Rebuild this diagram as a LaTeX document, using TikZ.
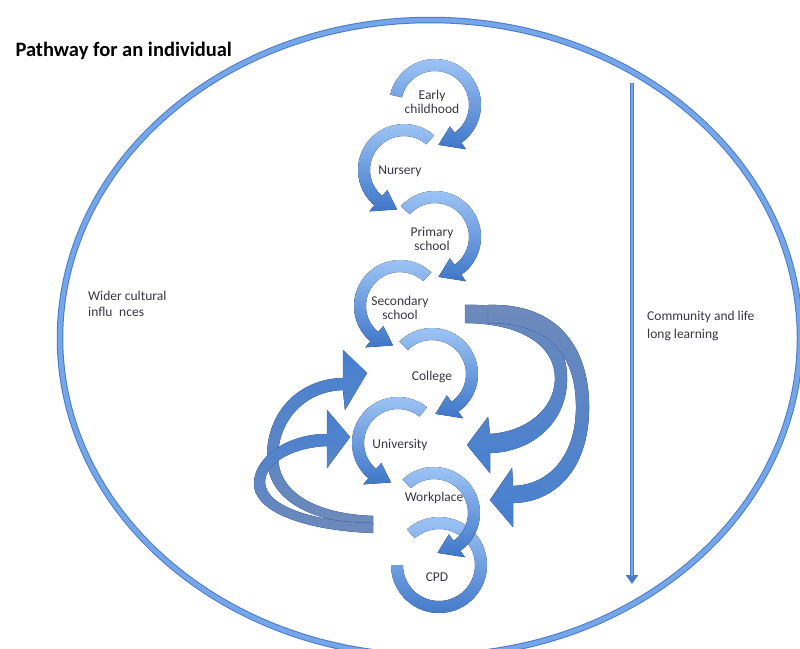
\documentclass[tikz,border=0pt]{standalone}
\usepackage{fontspec}
\setmainfont{Carlito}
\usepackage{tikz}
\usetikzlibrary{arrows.meta}

\definecolor{ringlight}{RGB}{162,200,248}
\definecolor{ringdark}{RGB}{62,118,200}
\definecolor{ovalblue}{RGB}{118,166,234}
\definecolor{ovaledge}{RGB}{72,122,200}
\definecolor{bendblue}{RGB}{70,128,210}
\definecolor{bendgray}{RGB}{110,138,186}
\definecolor{labelgray}{RGB}{55,55,65}

\begin{document}
\begin{tikzpicture}[x=1pt,y=1pt,yscale=-1,xscale=1,
  stage/.style={top color=ringlight, bottom color=ringdark, draw=none},
  bendright/.style={top color=bendgray, bottom color=bendblue, draw=ovaledge, line width=0.25},
  bendleft/.style={top color=bendblue, bottom color=bendgray, draw=ovaledge, line width=0.25},
  label/.style={font=\fontsize{13.5}{14}\selectfont, text=labelgray, align=center, inner sep=0pt},
  side/.style={font=\fontsize{13.5}{16}\selectfont, text=labelgray, align=left, inner sep=0pt, anchor=west}]
\useasboundingbox (0,0) rectangle (800,648);
\clip (0,0) rectangle (800,648);

% outer oval
\draw [ovaledge, line width=6.5] (430,338) ellipse [x radius=370, y radius=318];
\draw [ovalblue, line width=4.5] (430,338) ellipse [x radius=370, y radius=318];

% life long line
\coordinate (lltop) at (632,83);
\coordinate (llend) at (632,584);
\draw [ovaledge, line width=4.6, -{Triangle[length=9pt,width=12pt]}] (lltop) -- (llend);
\draw [ovalblue, line width=2.6, shorten >=8pt] (lltop) -- (llend);

% curved arrows on the right
\fill [bendright] (465,305) .. controls (530,303) and (568,335) .. (567,380) .. controls (566,425) and (530,452) .. (490,453)
  -- (490,473) -- (467,445) -- (488,417) -- (490,434)
  .. controls (525,432) and (554,410) .. (555,380) .. controls (556,345) and (520,323) .. (465,323) -- cycle;
\fill [bendright] (488,305) .. controls (560,303) and (590,350) .. (589,410) .. controls (588,470) and (555,502) .. (513,503)
  -- (513,527) -- (490,500) -- (512,468) -- (513,486)
  .. controls (550,485) and (575,455) .. (576,410) .. controls (577,350) and (545,323) .. (488,323) -- cycle;

% curved arrows on the left
\fill [bendleft] (373,525) .. controls (310,522) and (266,500) .. (267,455) .. controls (268,410) and (300,379) .. (343,378)
  -- (343,350) -- (367,373) -- (345,410) -- (343,390)
  .. controls (305,391) and (279,420) .. (278,455) .. controls (277,492) and (315,514) .. (373,516) -- cycle;
\fill [bendleft] (373,533) .. controls (300,530) and (252,510) .. (254,482) .. controls (256,455) and (290,434) .. (327,434)
  -- (327,410) -- (350,437) -- (327,468) -- (327,446)
  .. controls (295,447) and (265,462) .. (265,482) .. controls (265,505) and (310,522) .. (373,523) -- cycle;

% stage rings, last one first
\begin{scope}[shift={(439,565)}]
\fill [stage] (228:48) arc [start angle=228, end angle=540, radius=48] -- (540:36) arc [start angle=540, end angle=228, radius=36] -- cycle;
\end{scope}
\begin{scope}[shift={(434,513)}]
\fill [stage] (227:46) arc [start angle=227, end angle=415, radius=46] -- (415:54) -- (445:40) -- (415:26) -- (415:34) arc [start angle=415, end angle=227, radius=34] -- cycle;
\end{scope}
\begin{scope}[shift={(398,443)}]
\fill [stage] (309:46) arc [start angle=309, end angle=130, radius=46] -- (130:54) -- (100:40) -- (130:26) -- (130:34) arc [start angle=130, end angle=309, radius=34] -- cycle;
\end{scope}
\begin{scope}[shift={(432,374)}]
\fill [stage] (225:46) arc [start angle=225, end angle=415, radius=46] -- (415:54) -- (445:40) -- (415:26) -- (415:34) arc [start angle=415, end angle=225, radius=34] -- cycle;
\end{scope}
\begin{scope}[shift={(400,306)}]
\fill [stage] (313:46) arc [start angle=313, end angle=130, radius=46] -- (130:54) -- (100:40) -- (130:26) -- (130:34) arc [start angle=130, end angle=313, radius=34] -- cycle;
\end{scope}
\begin{scope}[shift={(435,237)}]
\fill [stage] (222:46) arc [start angle=222, end angle=415, radius=46] -- (415:54) -- (445:40) -- (415:26) -- (415:34) arc [start angle=415, end angle=222, radius=34] -- cycle;
\end{scope}
\begin{scope}[shift={(404,170)}]
\fill [stage] (311:46) arc [start angle=311, end angle=130, radius=46] -- (130:54) -- (100:40) -- (130:26) -- (130:34) arc [start angle=130, end angle=311, radius=34] -- cycle;
\end{scope}
\begin{scope}[shift={(435,105)}]
\fill [stage] (193:46) arc [start angle=193, end angle=415, radius=46] -- (415:54) -- (445:40) -- (415:26) -- (415:34) arc [start angle=415, end angle=193, radius=34] -- cycle;
\end{scope}

% labels
\node [anchor=base west, font=\bfseries\fontsize{20.5}{24}\selectfont] (title) at (12,56) {Pathway for an individual};
\node [label] (early) at (432,102) {Early\\childhood};
\node [label] (nursery) at (400,171) {Nursery};
\node [label] (primary) at (432,239) {Primary\\school};
\node [label] (secondary) at (400,308) {Secondary\\school};
\node [label] (college) at (432,377) {College};
\node [label] (university) at (400,445) {University};
\node [label] (workplace) at (434,498) {Workplace};
\node [label] (cpd) at (437,577) {CPD};
\node [side] (wider) at (88,304) {Wider cultural\\influ\phantom{e}nces};
\node [side, font=\fontsize{13.5}{18}\selectfont] (community) at (647,326) {Community and life\\long learning};
\end{tikzpicture}
\end{document}
